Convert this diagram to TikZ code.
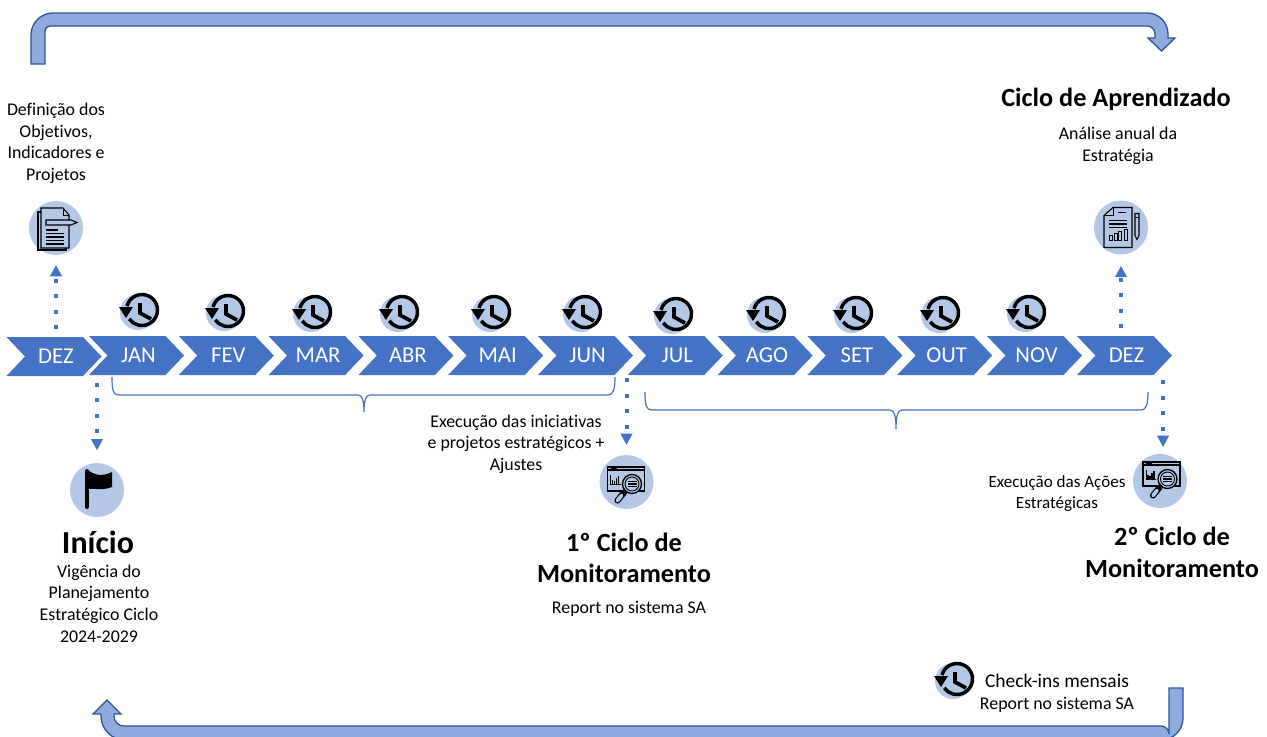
\documentclass[tikz,border=0pt]{standalone}
\usepackage{fontspec}
\setmainfont{Carlito}[Ligatures=NoCommon]
\usetikzlibrary{shapes.symbols,arrows.meta}
\definecolor{barblue}{HTML}{4472C4}
\definecolor{iconblue}{HTML}{B4C7E7}
\definecolor{loopfill}{HTML}{8FAADC}
\definecolor{loopline}{HTML}{2F5597}
\tikzset{
	monthbar/.style={signal, signal from=west, signal to=east, signal pointer angle=93, fill=barblue, text=white, minimum width=71.25pt, minimum height=29.25pt, inner sep=0pt, outer sep=0pt, font=\fontsize{17}{19}\selectfont, execute at begin node=\hspace*{3pt}},
	iconback/.style={circle, fill=iconblue, minimum size=40.5pt, inner sep=0pt, outer sep=0pt},
	dotarrow/.style={draw=barblue, line width=3pt, dash pattern=on 3pt off 8.6pt, -{Triangle[length=8.5pt,width=8.5pt,fill=barblue]}},
	bracket/.style={draw=barblue, line width=0.9pt},
	loopband/.style={draw=loopline, fill=loopfill, line width=1pt, line join=miter},
	bodytext/.style={align=center, inner sep=0pt, font=\fontsize{13.4}{16.2}\selectfont},
	headtext/.style={align=center, inner sep=0pt, font=\fontsize{19.7}{23.6}\selectfont\bfseries},
	pics/clockmark/.style={code={
		\node[circle, fill=iconblue, minimum size=27pt, inner sep=0pt] (-back) at (-1,-1) {};
		\draw[line width=2.6pt] (3,-3) ++(195:15.5) arc[start angle=195, end angle=505, radius=15.5];
		\fill (-20,-6) -- (-6,-6) -- (-13,5) -- cycle;
		\draw[line width=2.8pt] (1,-10) -- (1,0) -- (12,6);
	}},
	pics/filemark/.style={code={
		\draw[line width=0.8pt] (-15,-20) -- (7,-20) -- (13,-13) -- (13,20) -- (-15,20) -- cycle;
		\draw[line width=0.7pt] (7,-20) -- (7,-13) -- (13,-13);
		\draw[line width=0.8pt] (-15,-16) -- (-18,-16) -- (-18,22) -- (10,22) -- (10,20);
		\draw[line width=0.8pt, fill=iconblue] (-10,-8) -- (15,-8) -- (21,-5.5) -- (15,-3) -- (-10,-3) -- cycle;
		\draw[line width=0.9pt] (-10,2) -- (2,2) (-10,5.5) -- (8,5.5) (-10,9) -- (8,9) (-10,12.5) -- (8,12.5) (-10,16) -- (8,16);
	}},
	pics/reportmark/.style={code={
		\draw[line width=0.8pt] (-8,-20) -- (11,-20) -- (11,20) -- (-17,20) -- (-17,-12) -- cycle;
		\draw[line width=0.7pt] (-8,-20) -- (-8,-12) -- (-17,-12);
		\draw[line width=0.8pt] (-3,-15) -- (5,-15) (-12,-7) -- (6,-7) (-12,-3.5) -- (6,-3.5) (-12,0) -- (6,0);
		\draw[line width=0.7pt] (-12,8) rectangle (-9,13) (-7,6) rectangle (-4,13) (-2.5,4) rectangle (0.5,13) (3,2) rectangle (6,13);
		\draw[line width=0.8pt] (14,-14) -- (18,-14) -- (18,8) -- (16,12) -- (14,8) -- cycle;
		\draw[line width=0.6pt] (14,-10) -- (18,-10);
	}},
	pics/scanmark/.style={code={
		\draw[line width=0.8pt] (-19,-15) rectangle (18,9);
		\draw[line width=0.8pt] (-19,-12) -- (18,-12);
		\draw[line width=0.9pt] (-16,-13.5) -- (-10,-13.5);
		\draw[line width=0.7pt] (-16,-7) -- (-16,2) -- (-6,2);
		\draw[line width=1.1pt] (-14,2) -- (-14,-2) (-12,2) -- (-12,-1) (-10,2) -- (-10,-4) (-8,2) -- (-8,-6);
		\draw[line width=1pt, fill=iconblue] (5.5,2) circle[radius=9.5];
		\draw[line width=0.7pt] (5.5,2) circle[radius=7];
		\draw[line width=0.8pt] (1,-0.5) -- (10,-0.5) (1,2) -- (10,2) (1,4.5) -- (10,4.5);
		\draw[line width=4.6pt, line cap=round] (-9,18.5) -- (-2.5,10.5);
		\draw[line width=2.8pt, line cap=round, iconblue] (-9,18.5) -- (-5,13.5);
	}},
	pics/flagmark/.style={code={
		\draw[line width=3pt, line cap=round] (-10,-19) -- (-10,17);
		\fill (-9,-20) .. controls (-3,-15) and (5,-13) .. (15,-18) -- (15,-3) .. controls (5,1) and (-3,-2) .. (-9,-1) -- cycle;
	}}
}
\begin{document}
\begin{tikzpicture}[x=0.75pt, y=-0.75pt]
	\useasboundingbox (0,0) rectangle (1267,736);
	\clip (0,0) rectangle (1267,736);

	\draw[loopband] (31,64) -- (31,35) arc[start angle=180, end angle=270, radius=22] -- (1147,13) arc[start angle=270, end angle=360, radius=21] -- (1168,38) -- (1175,38) -- (1161.5,51) -- (1148,38) -- (1155,38) -- (1155,34) arc[start angle=0, end angle=-90, radius=8] -- (50,26) arc[start angle=270, end angle=180, radius=5] -- (45,64) -- cycle;
	\draw[loopband] (1169,688) -- (1183,688) -- (1183,718) arc[start angle=0, end angle=90, radius=22] -- (125,740) arc[start angle=90, end angle=180, radius=24] -- (101,714) -- (93,714) -- (107,700) -- (121,714) -- (114,714) -- (114,716) arc[start angle=180, end angle=90, radius=10] -- (1161,726) arc[start angle=270, end angle=360, radius=8] -- cycle;

	\node[monthbar] (dezstart) at (54,356.5) {DEZ};
	\node[monthbar] (jan) at (136.5,355.5) {JAN};
	\node[monthbar] (fev) at (226.3,355.5) {FEV};
	\node[monthbar] (mar) at (316.1,355.5) {MAR};
	\node[monthbar] (abr) at (405.9,355.5) {ABR};
	\node[monthbar] (mai) at (495.7,355.5) {MAI};
	\node[monthbar] (jun) at (585.5,355.5) {JUN};
	\node[monthbar] (jul) at (675.3,355.5) {JUL};
	\node[monthbar] (ago) at (765.1,355.5) {AGO};
	\node[monthbar] (set) at (854.9,355.5) {SET};
	\node[monthbar] (out) at (944.7,355.5) {OUT};
	\node[monthbar] (nov) at (1034.5,355.5) {NOV};
	\node[monthbar] (dezend) at (1124.5,355.5) {DEZ};

	\pic (clockjan) at (139,313) {clockmark};
	\pic (clockfev) at (225,314) {clockmark};
	\pic (clockmar) at (312,315) {clockmark};
	\pic (clockabr) at (399,315) {clockmark};
	\pic (clockmai) at (491,315) {clockmark};
	\pic (clockjun) at (582,315) {clockmark};
	\pic (clockjul) at (673,317) {clockmark};
	\pic (clockago) at (766,316) {clockmark};
	\pic (clockset) at (853,316) {clockmark};
	\pic (clockout) at (940,316) {clockmark};
	\pic (clocknov) at (1026,315) {clockmark};
	\pic (clockkey) at (954,682) {clockmark};

	\node[iconback] (fileicon) at (56,228) {};
	\pic at (fileicon) {filemark};
	\node[iconback] (flagicon) at (97,490) {};
	\pic at (flagicon) {flagmark};
	\node[iconback] (scanone) at (626.5,482) {};
	\pic at (scanone) {scanmark};
	\node[iconback] (reporticon) at (1121,227.5) {};
	\pic at (reporticon) {reportmark};
	\node[iconback] (scantwo) at (1160,481) {};
	\pic at ([shift={(2,-4)}]scantwo) {scanmark};

	\coordinate (scantwotip) at (1163,447);
	\draw[dotarrow, shorten <=6pt, shorten >=7.5pt] (fileicon |- dezstart.north) -- (fileicon.south);
	\draw[dotarrow, shorten <=6pt, shorten >=9.5pt] (flagicon |- jan.south) -- (flagicon.north);
	\draw[dotarrow, shorten <=2.5pt, shorten >=7.5pt] (scanone |- jun.south) -- (scanone.north);
	\draw[dotarrow, shorten <=6pt, shorten >=8.5pt] (reporticon |- dezend.north) -- (reporticon.south);
	\draw[dotarrow, shorten <=4pt] (scantwotip |- dezend.south) -- (scantwotip);

	\draw[bracket] (112,377) .. controls (112,390) and (113,395) .. (119,395) -- (358,395) .. controls (362,395) and (364,400) .. (364,412) .. controls (364,400) and (366,395) .. (370,395) -- (608,395) .. controls (613,395) and (615,390) .. (615,377);
	\draw[bracket] (645,392) .. controls (645,405) and (646,410) .. (652,410) -- (890,410) .. controls (894,410) and (896,415) .. (896,429) .. controls (896,415) and (898,410) .. (902,410) -- (1141,410) .. controls (1146,410) and (1148,405) .. (1148,392);

	\node[bodytext] (defobjetivos) at (56,143.5) {Definição dos\\Objetivos,\\Indicadores e\\Projetos};
	\node[headtext] (aprendizado) at (1116,99) {Ciclo de Aprendizado};
	\node[bodytext] (analise) at (1118,146) {Análise anual da\\Estratégia};
	\node[headtext] (inicio) at (98,542) {\fontsize{24}{28}\selectfont Início};
	\node[bodytext] (vigencia) at (99,603.5) {Vigência do\\Planejamento\\Estratégico Ciclo\\2024-2029};
	\node[bodytext] (execinic) at (516,444) {Execução das iniciativas\\e projetos estratégicos +\\Ajustes};
	\node[headtext] (cicloum) at (624,558) {1º Ciclo de\\Monitoramento};
	\node[bodytext] (reportum) at (629,609) {Report no sistema SA};
	\node[bodytext, font=\fontsize{12.8}{16.2}\selectfont] (execacoes) at (1057,493.5) {Execução das Ações\\Estratégicas};
	\node[headtext] (ciclodois) at (1172,552.5) {2º Ciclo de\\Monitoramento};
	\node[bodytext] (checkins) at (1057,693) {\fontsize{14.6}{16}\selectfont Check-ins mensais\\Report no sistema SA};
\end{tikzpicture}
\end{document}
